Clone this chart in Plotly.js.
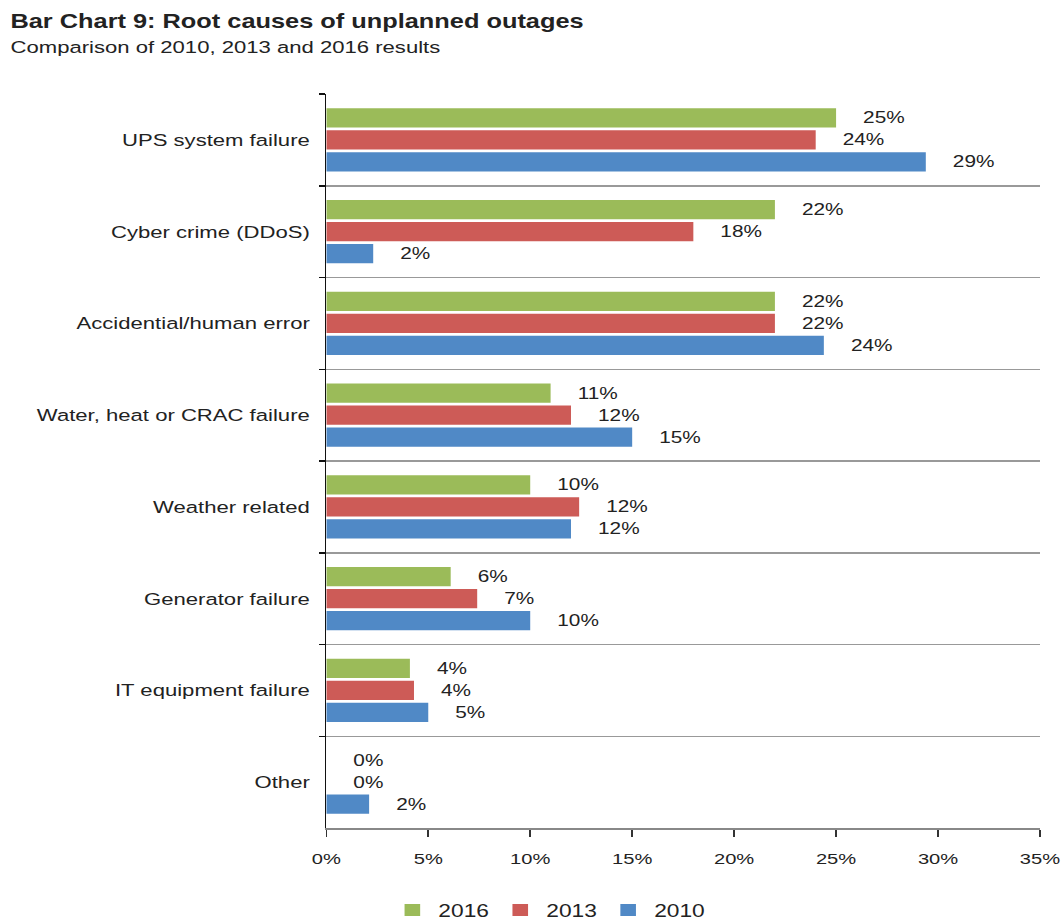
<!DOCTYPE html>
<html>
<head>
<meta charset="utf-8">
<script src="https://cdn.plot.ly/plotly-3.0.1.min.js"></script>
<style>
html,body{margin:0;padding:0;background:#fff;overflow:hidden;}
#wrap{width:1062px;height:922px;overflow:hidden;}
#chart{height:922px;transform-origin:0 0;}
</style>
</head>
<body>
<div id="wrap"><div id="chart"></div></div>
<script>
const categories = ["UPS system failure", "Cyber crime (DDoS)", "Accidential/human error", "Water, heat or CRAC failure", "Weather related", "Generator failure", "IT equipment failure", "Other"];
const values2016 = [25.0, 22.0, 22.0, 11.0, 10.0, 6.1, 4.1, 0];
const values2013 = [24.0, 18.0, 22.0, 12.0, 12.4, 7.4, 4.3, 0];
const values2010 = [29.4, 2.3, 24.4, 15.0, 12.0, 10.0, 5.0, 2.1];
const labels2016 = ["25%", "22%", "22%", "11%", "10%", "6%", "4%", "0%"];
const labels2013 = ["24%", "18%", "22%", "12%", "12%", "7%", "4%", "0%"];
const labels2010 = ["29%", "2%", "24%", "15%", "12%", "10%", "5%", "2%"];
const xTickVals = [0, 5, 10, 15, 20, 25, 30, 35];

// the reference image is horizontally stretched; draw narrower and stretch
const S = 1.3;
const W = 1062 / S;
const L = 326 / S, R = 22 / S;
const plotW = W - L - R;
const T = 94, B = 922 - 828;
const plotH = 922 - T - B;
const chartDiv = document.getElementById("chart");
chartDiv.style.width = W + "px";
chartDiv.style.transform = "scaleX(" + S + ")";

const FONT = "Liberation Sans, Arial, sans-serif";
const pad = s => "\u00a0\u00a0\u00a0\u00a0" + s;
function mk(name, vals, labs, color) {
  return {
    type: "bar", orientation: "h", name: name,
    y: categories, x: vals,
    text: labs.map(pad), textposition: "outside", cliponaxis: false,
    textfont: {family: FONT, size: 16, color: "#222"},
    marker: {color: color},
    hoverinfo: "skip"
  };
}
const data = [
  mk("2016", values2016, labels2016, "#9BBB59"),
  mk("2013", values2013, labels2013, "#CD5B57"),
  mk("2010", values2010, labels2010, "#5089C6")
];
const px = x => (x / S - L) / plotW;
const py = y => (922 - B - y) / plotH;
const layout = {
  width: W, height: 922,
  margin: {l: L, r: R, t: T, b: B, autoexpand: false},
  paper_bgcolor: "#fff", plot_bgcolor: "#fff",
  font: {family: FONT, size: 16, color: "#222"},
  barmode: "group", bargap: 0.28, bargroupgap: 0.12,
  showlegend: true,
  legend: {orientation: "h", x: px(548), xanchor: "center", y: py(910), yanchor: "middle",
           font: {size: 17.5, color: "#222"}, traceorder: "normal", itemwidth: 30,
           entrywidth: 38, entrywidthmode: "pixels"},
  xaxis: {range: [0, 35], tickvals: xTickVals, ticktext: xTickVals.map(v => v + "%"),
          showgrid: false, zeroline: false, showline: true, linecolor: "#888", linewidth: 1.5,
          ticks: "outside", ticklen: 7, tickcolor: "#333", tickwidth: 1.2,
          tickfont: {size: 15.5, color: "#222"}, ticklabelstandoff: 9},
  yaxis: {autorange: "reversed", type: "category", tickson: "boundaries",
          showgrid: true, gridcolor: "#999", gridwidth: 1.5,
          showline: true, linecolor: "#111", linewidth: 1.3,
          ticks: "outside", ticklen: 4.5, tickcolor: "#111", tickwidth: 1.5,
          tickfont: {size: 17, color: "#222"}, ticklabelstandoff: 8},
  annotations: [
    {text: "<b>Bar Chart 9: Root causes of unplanned outages</b>", xref: "paper", yref: "paper",
     x: px(8), y: py(21), xanchor: "left", yanchor: "middle", showarrow: false,
     font: {size: 19.5, color: "#222"}},
    {text: "Comparison of 2010, 2013 and 2016 results", xref: "paper", yref: "paper",
     x: px(8), y: py(47), xanchor: "left", yanchor: "middle", showarrow: false,
     font: {size: 17, color: "#222"}}
  ]
};
Plotly.newPlot(chartDiv, data, layout, {displayModeBar: false, staticPlot: true});
</script>
</body>
</html>
